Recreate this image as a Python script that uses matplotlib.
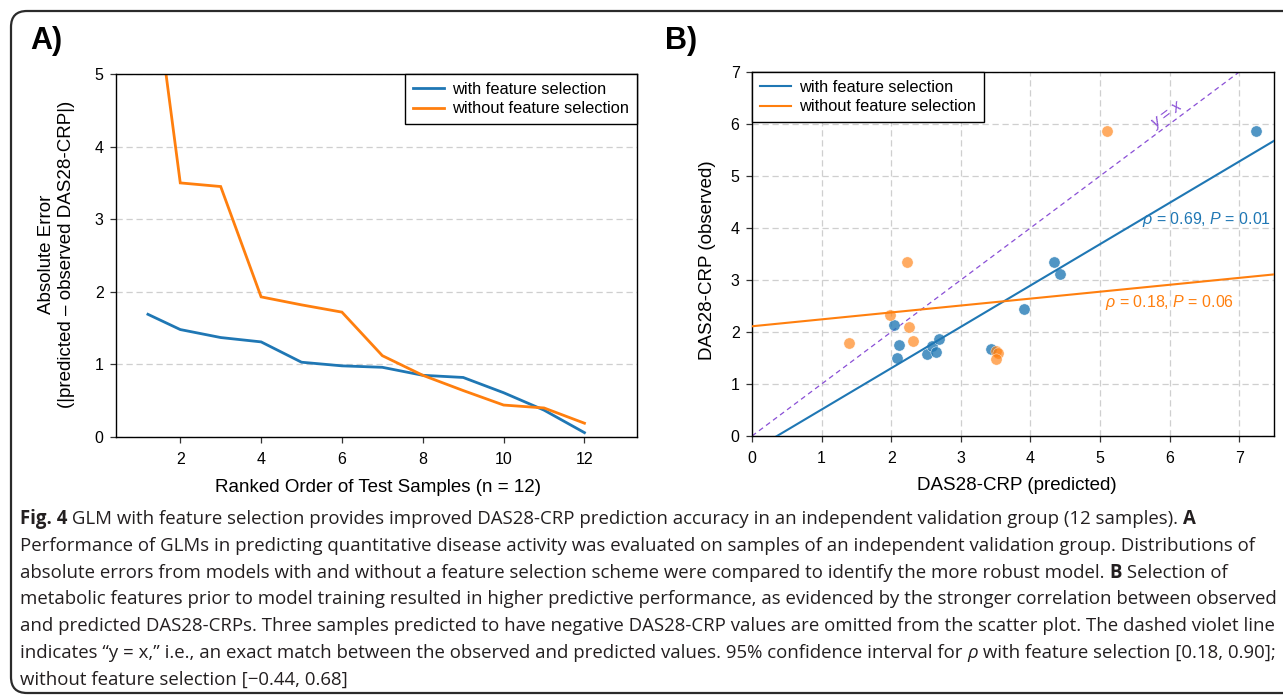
import matplotlib
matplotlib.use("Agg")
import matplotlib.pyplot as plt
from matplotlib.patches import FancyBboxPatch
from matplotlib.transforms import IdentityTransform
import numpy as np

# panel A: absolute error by ranked test sample
rank = [1.2, 2, 3, 4, 5, 6, 7, 8, 9, 10, 11, 12]
err_with_fs = [1.69, 1.48, 1.37, 1.31, 1.03, 0.98, 0.96, 0.85, 0.82, 0.61, 0.37, 0.06]
err_without_fs = [6.9, 3.50, 3.45, 1.93, 1.82, 1.72, 1.12, 0.85, 0.64, 0.44, 0.40, 0.19]

# panel B: predicted vs observed DAS28-CRP
pred_with_fs = [2.04, 2.11, 2.09, 2.52, 2.58, 2.64, 2.69, 3.43, 3.91, 4.34, 4.43, 7.24]
obs_with_fs = [2.14, 1.75, 1.50, 1.57, 1.74, 1.62, 1.87, 1.68, 2.44, 3.35, 3.11, 5.86]
pred_without_fs = [1.98, 2.25, 2.32, 1.40, 3.50, 3.54, 3.51, 2.22, 5.10]
obs_without_fs = [2.33, 2.09, 1.83, 1.78, 1.64, 1.59, 1.48, 3.34, 5.86]

fit_with_fs = (0.795, -0.286)      # slope, intercept
fit_without_fs = (0.133, 2.11)

labels = ["with feature selection", "without feature selection"]
stats_with_fs = r"$\rho$ = 0.69, $P$ = 0.01"
stats_without_fs = r"$\rho$ = 0.18, $P$ = 0.06"

caption_lines = [
    [("Fig. 4", "bold"),
     (" GLM with feature selection provides improved DAS28-CRP prediction accuracy in an independent validation group (12 samples). ", "normal"),
     ("A", "bold")],
    [("Performance of GLMs in predicting quantitative disease activity was evaluated on samples of an independent validation group. Distributions of", "normal")],
    [("absolute errors from models with and without a feature selection scheme were compared to identify the more robust model. ", "normal"),
     ("B", "bold"), (" Selection of", "normal")],
    [("metabolic features prior to model training resulted in higher predictive performance, as evidenced by the stronger correlation between observed", "normal")],
    [("and predicted DAS28-CRPs. Three samples predicted to have negative DAS28-CRP values are omitted from the scatter plot. The dashed violet line", "normal")],
    [("indicates \u201cy = x,\u201d i.e., an exact match between the observed and predicted values. 95% confidence interval for ", "normal"),
     ("\u03c1", "italic"), (" with feature selection [0.18, 0.90];", "normal")],
    [("without feature selection [\u22120.44, 0.68]", "normal")],
]

BLUE = "#1f77b4"
ORANGE = "#ff7f0e"
VIOLET = "#8a4fd6"
GRID = "#cfcfcf"

plt.rcParams["font.family"] = ["Liberation Sans", "DejaVu Sans"]
plt.rcParams["mathtext.fontset"] = "custom"
plt.rcParams["mathtext.rm"] = "Liberation Sans"
plt.rcParams["mathtext.it"] = "Liberation Sans:italic"

W, H = 1283, 699
fig = plt.figure(figsize=(W / 100, H / 100), dpi=100)

# rounded frame around the whole figure, right edge runs off canvas
frame = FancyBboxPatch((11, 6), 1300, 682, boxstyle="round,pad=0,rounding_size=16",
                       transform=IdentityTransform(), facecolor="none",
                       edgecolor="#2b2b2b", linewidth=1.6)
fig.patches.append(frame)

ax_a = fig.add_axes([116 / W, 1 - 437 / H, (637 - 116) / W, (437 - 74) / H])
ax_b = fig.add_axes([752 / W, 1 - 436 / H, (1274 - 752) / W, (436 - 72) / H])

fig.text(30 / W, 1 - 41 / H, "A)", fontsize=22, fontweight="bold", va="center", ha="left")
fig.text(665 / W, 1 - 41 / H, "B)", fontsize=22, fontweight="bold", va="center", ha="left")

for ax in (ax_a, ax_b):
    for sp in ax.spines.values():
        sp.set_color("black")
        sp.set_linewidth(1.0)
    ax.tick_params(direction="out", length=4.5, width=0.9, labelsize=11.5, color="#333333")
    ax.tick_params(axis="x", pad=6)
    ax.tick_params(axis="y", pad=4.5)
    ax.set_axisbelow(True)

# ---- panel A
ax_a.plot(rank, err_with_fs, color=BLUE, lw=2.0, label=labels[0], solid_joinstyle="miter")
ax_a.plot(rank, err_without_fs, color=ORANGE, lw=2.0, label=labels[1], solid_joinstyle="miter")
ax_a.set_xlim(0.41, 13.3)
ax_a.set_ylim(0, 5)
ax_a.set_xticks([2, 4, 6, 8, 10, 12])
ax_a.set_yticks([0, 1, 2, 3, 4, 5])
ax_a.yaxis.grid(True, color=GRID, linestyle=(0, (5, 3)), linewidth=0.9)
ax_a.text(-0.114, 0.503, "Absolute Error\n(|predicted \u2013 observed DAS28-CRP|)",
          transform=ax_a.transAxes, rotation=90, ha="center", va="center",
          multialignment="center", fontsize=13.5, linespacing=1.25)
ax_a.text(0.503, -0.138, "Ranked Order of Test Samples (n = 12)", transform=ax_a.transAxes,
          ha="center", va="center", fontsize=13.5)
leg = ax_a.legend(loc="upper right", borderaxespad=0, fancybox=False, edgecolor="black",
                  framealpha=1, fontsize=11.8, handlelength=1.9, handletextpad=0.45,
                  borderpad=0.5, labelspacing=0.25)
leg.get_frame().set_linewidth(1.0)

# ---- panel B
ax_b.scatter(pred_with_fs, obs_with_fs, s=66, color=BLUE, alpha=0.78, edgecolors="white",
             linewidths=0.4, zorder=3)
ax_b.scatter(pred_without_fs, obs_without_fs, s=66, color=ORANGE, alpha=0.65, edgecolors="white",
             linewidths=0.4, zorder=3)
xs = np.array([0, 7.5])
ax_b.plot(xs, fit_with_fs[0] * xs + fit_with_fs[1], color=BLUE, lw=1.5, label=labels[0], zorder=4)
ax_b.plot(xs, fit_without_fs[0] * xs + fit_without_fs[1], color=ORANGE, lw=1.5, label=labels[1], zorder=4)
ax_b.plot([0, 7.5], [0, 7.5], color=VIOLET, lw=0.9, linestyle=(0, (4, 3)), zorder=2)
ax_b.text(5.96, 6.18, "y = x", color=VIOLET, fontsize=11.5, style="italic", rotation=45,
          transform_rotates_text=True, rotation_mode="anchor", ha="center", va="center")
ax_b.text(7.46, 4.16, stats_with_fs, color=BLUE, fontsize=11.5, ha="right", va="center", zorder=5)
ax_b.text(6.93, 2.56, stats_without_fs, color=ORANGE, fontsize=11.5, ha="right", va="center", zorder=5)
ax_b.set_xlim(0, 7.5)
ax_b.set_ylim(0, 7)
ax_b.set_xticks(range(8))
ax_b.set_yticks(range(8))
ax_b.grid(True, color=GRID, linestyle=(0, (5, 3)), linewidth=0.9)
ax_b.text(-0.0845, 0.4835, "DAS28-CRP (observed)", transform=ax_b.transAxes, rotation=90,
          ha="center", va="center", fontsize=13.5)
ax_b.text(0.507, -0.137, "DAS28-CRP (predicted)", transform=ax_b.transAxes,
          ha="center", va="center", fontsize=13.5)
leg = ax_b.legend(loc="upper left", borderaxespad=0, fancybox=False, edgecolor="black",
                  framealpha=1, fontsize=11.8, handlelength=1.9, handletextpad=0.45,
                  borderpad=0.5, labelspacing=0.25)
leg.get_frame().set_linewidth(1.0)

# ---- caption, drawn segment by segment so bold/italic parts sit inline
renderer = fig.canvas.get_renderer()
cap_family = ["Open Sans", "DejaVu Sans"]
cap_color = "#231f20"
styles = {"normal": {}, "bold": {"fontweight": "bold"}, "italic": {"style": "italic"}}


def seg_width(s, size, kind):
    # pad with bars so leading/trailing spaces are measured too
    kw = dict(fontsize=size, family=cap_family, **styles[kind])
    t1 = fig.text(0, 0, "|" + s + "|", **kw)
    t0 = fig.text(0, 0, "||", **kw)
    w = t1.get_window_extent(renderer).width - t0.get_window_extent(renderer).width
    t1.remove()
    t0.remove()
    return w


# size the caption so the longest line spans the frame like the reference
probe = 12.0
longest = seg_width(caption_lines[3][0][0], probe, "normal")
cap_size = probe * 1246 / longest

x0, y_first, step = 20, 524, 26.8
for i, line in enumerate(caption_lines):
    x = x0
    y = H - (y_first + i * step)
    for s, kind in line:
        fig.text(x, y, s, transform=IdentityTransform(), fontsize=cap_size, family=cap_family,
                 color=cap_color, va="baseline", ha="left", **styles[kind])
        x += seg_width(s, cap_size, kind)

fig.savefig("out.png", dpi=100)
